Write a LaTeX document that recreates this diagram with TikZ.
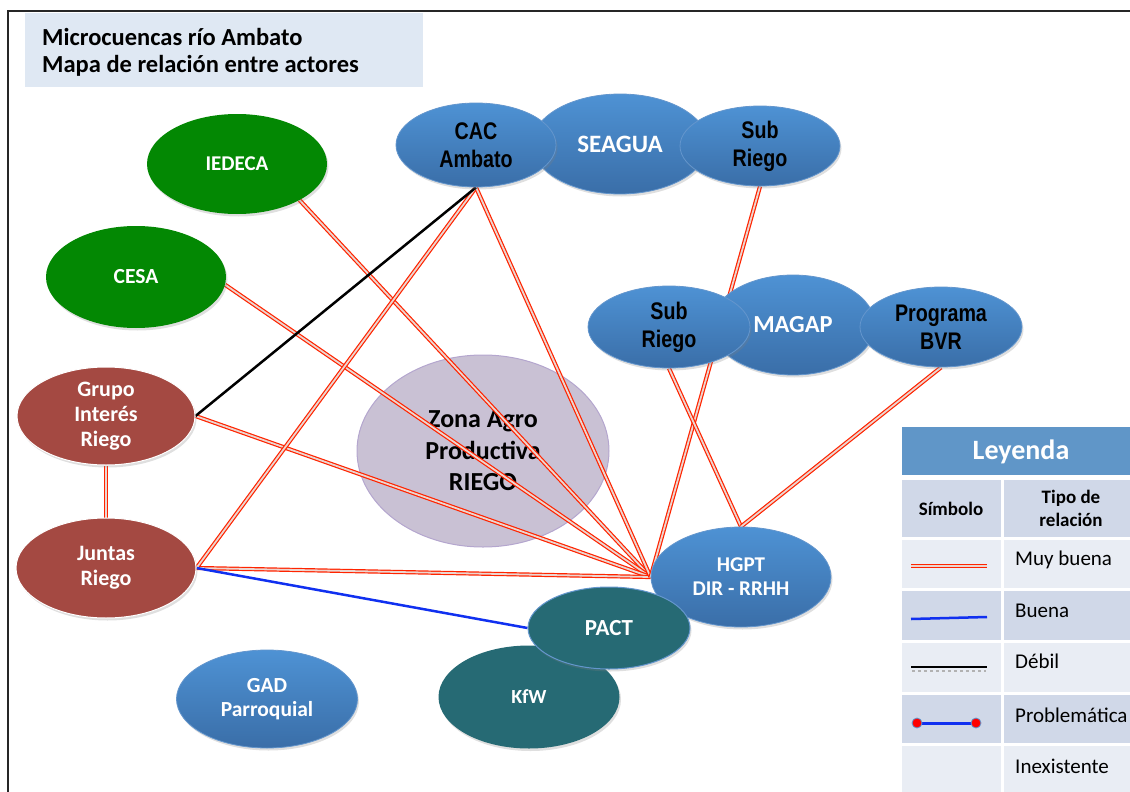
\documentclass[tikz,border=0pt]{standalone}
\usepackage{fontspec}
\setmainfont{Carlito}
\newfontfamily\narrowfont[FakeStretch=0.82]{Liberation Sans}
\usetikzlibrary{shapes.geometric,shadows}
\pgfdeclarelayer{bg}
\pgfdeclarelayer{edges}
\pgfsetlayers{bg,edges,main}
\definecolor{nodeblueT}{RGB}{78,146,212}
\definecolor{nodeblueB}{RGB}{58,110,168}
\definecolor{blueborder}{RGB}{100,150,205}
\definecolor{greenfill}{RGB}{3,136,3}
\definecolor{brownfill}{RGB}{164,73,66}
\definecolor{tealfill}{RGB}{38,106,116}
\definecolor{zonafill}{RGB}{201,193,212}
\definecolor{zonaborder}{RGB}{180,166,206}
\definecolor{relred}{RGB}{255,36,0}
\definecolor{relgap}{RGB}{236,214,208}
\definecolor{relblue}{RGB}{16,48,240}
\definecolor{titlebg}{RGB}{223,232,243}
\definecolor{legblue}{RGB}{96,150,200}
\definecolor{legdark}{RGB}{208,216,232}
\definecolor{leglight}{RGB}{233,237,244}
\tikzset{
  actor/.style={ellipse, inner sep=0pt, align=center,
    drop shadow={opacity=0.25, shadow xshift=1.5pt, shadow yshift=-2.5pt}},
  bluenode/.style={actor, draw=blueborder, line width=0.8pt, top color=nodeblueT, bottom color=nodeblueB, text=white,
    font=\bfseries\fontsize{21}{24}\selectfont},
  narrowtext/.style={text=black, font=\narrowfont\bfseries\fontsize{24}{28}\selectfont},
  greennode/.style={actor, fill=greenfill, text=white, font=\bfseries\fontsize{21}{24}\selectfont},
  brownnode/.style={actor, fill=brownfill, draw=white, line width=1pt, text=white, font=\bfseries\fontsize{22}{25}\selectfont},
  tealnode/.style={actor, fill=tealfill, text=white, font=\bfseries\fontsize{21}{24}\selectfont},
  muybuena/.style={draw=relred, line width=1.2pt, double=relgap, double distance=1.8pt},
  buena/.style={draw=relblue, line width=2.5pt},
  debil/.style={draw=black, line width=2.5pt},
  legtext/.style={anchor=base west, text=black, font=\fontsize{21}{24}\selectfont, inner sep=0pt},
}
\begin{document}
\begin{tikzpicture}[x=1pt,y=-1pt]
\useasboundingbox (0,0) rectangle (1130,792);
\clip (0,0) rectangle (1130,792);
% frame
\draw[line width=2pt, black!85] (8,800) -- (8,11) -- (1140,11);
% title
\fill[titlebg] (25,13) rectangle (423,87);
\node[anchor=base west, inner sep=0pt, font=\bfseries\fontsize{24.5}{28}\selectfont] (title1) at (42,46) {Microcuencas río Ambato};
\node[anchor=base west, inner sep=0pt, font=\bfseries\fontsize{24.5}{28}\selectfont] (title2) at (42,73) {Mapa de relación entre actores};

% zona (background)
\begin{pgfonlayer}{bg}
\node[ellipse, inner sep=0pt, align=center, fill=zonafill, draw=zonaborder, line width=1pt,
  minimum width=252pt, minimum height=192pt, font=\bfseries\fontsize{26}{31.5}\selectfont] (zona) at (483,451) {Zona Agro\\Productiva\\RIEGO};
\end{pgfonlayer}

% left actors
\node[greennode, minimum width=180pt, minimum height=100pt] (iedeca) at (237,164) {IEDECA};
\node[greennode, minimum width=180pt, minimum height=102pt, font=\bfseries\fontsize{21.5}{24}\selectfont] (cesa) at (136,277) {CESA};
\node[brownnode, minimum width=178pt, minimum height=98pt] (grupo) at (106,416) {Grupo\\Interés\\Riego};
\node[brownnode, minimum width=180pt, minimum height=100pt] (juntas) at (106,568) {Juntas\\Riego};
\node[bluenode, minimum width=181pt, minimum height=98pt, font=\bfseries\fontsize{21.5}{24}\selectfont] (gad) at (267,699) {GAD\\Parroquial};

% top cluster
\node[bluenode, minimum width=176pt, minimum height=100pt, font=\bfseries\fontsize{25}{28}\selectfont] (seagua) at (620,144) {SEAGUA};
\node[bluenode, narrowtext, minimum width=160pt, minimum height=84pt] (cac) at (476,145) {CAC\\Ambato};
\node[bluenode, narrowtext, minimum width=160pt, minimum height=80pt] (subr1) at (760,146) {Sub\\Riego};

% middle cluster
\node[bluenode, minimum width=164pt, minimum height=100pt, font=\bfseries\fontsize{24.5}{28}\selectfont] (magap) at (793,325) {MAGAP};
\node[bluenode, narrowtext, minimum width=162pt, minimum height=82pt] (subr2) at (669,327) {Sub\\Riego};
\node[bluenode, narrowtext, minimum width=162pt, minimum height=80pt] (bvr) at (941,327) {Programa\\BVR};

% bottom cluster
\node[bluenode, minimum width=180pt, minimum height=100pt] (hgpt) at (741,577) {HGPT\\DIR - RRHH};
\node[tealnode, minimum width=181pt, minimum height=103pt, font=\bfseries\fontsize{20}{23}\selectfont] (kfw) at (529,697) {KfW};
\node[tealnode, draw=blueborder, line width=1pt, minimum width=162pt, minimum height=82pt, font=\bfseries\fontsize{23}{26}\selectfont] (pact) at (609,628) {PACT};

% relations
\begin{pgfonlayer}{edges}
\draw[muybuena] (iedeca.-30) -- (hgpt.west);
\draw[muybuena] (cesa.-5) -- (hgpt.west);
\draw[muybuena] (grupo.east) -- (hgpt.west);
\draw[muybuena] (juntas.east) -- (hgpt.west);
\draw[muybuena] (juntas.east) -- (cac.south);
\draw[muybuena] (cac.south) -- (hgpt.west);
\draw[muybuena] (subr1.south) -- (hgpt.west);
\draw[muybuena] (subr2.south) -- (hgpt.north);
\draw[muybuena] (bvr.south) -- (hgpt.north);
\draw[muybuena] (grupo.south) -- (juntas.north);
\draw[debil] (grupo.east) -- (cac.south);
\draw[buena] (juntas.east) -- (pact.west);
\end{pgfonlayer}

% legend
\fill[legblue] (902,427) rectangle (1140,475);
\fill[legdark] (902,480) rectangle (1001,537);
\fill[legdark] (1004,480) rectangle (1140,537);
\fill[leglight] (902,540) rectangle (1001,588);
\fill[leglight] (1004,540) rectangle (1140,588);
\fill[legdark] (902,591) rectangle (1001,640);
\fill[legdark] (1004,591) rectangle (1140,640);
\fill[leglight] (902,643) rectangle (1001,692);
\fill[leglight] (1004,643) rectangle (1140,692);
\fill[legdark] (902,695) rectangle (1001,743);
\fill[legdark] (1004,695) rectangle (1140,743);
\fill[leglight] (902,746) rectangle (1001,800);
\fill[leglight] (1004,746) rectangle (1140,800);
\node[text=white, font=\bfseries\fontsize{28}{32}\selectfont, inner sep=0pt] (leyenda) at (1021,452) {Leyenda};
\node[font=\bfseries\fontsize{19}{23}\selectfont, inner sep=0pt] (simbolo) at (951,509) {Símbolo};
\node[font=\bfseries\fontsize{19}{23}\selectfont, inner sep=0pt, align=center] (tipo) at (1071,508) {Tipo de\\relación};
\node[legtext] (lmb) at (1015,565) {Muy buena};
\node[legtext] (lb) at (1015,617) {Buena};
\node[legtext] (ld) at (1015,668) {Débil};
\node[legtext] (lp) at (1015,722) {Problemática};
\node[legtext] (li) at (1015,773) {Inexistente};
\coordinate (mbA) at (911,566); \coordinate (mbB) at (987,566);
\draw[muybuena] (mbA) -- (mbB);
\coordinate (bA) at (911,619); \coordinate (bB) at (987,617);
\draw[buena] (bA) -- (bB);
\coordinate (dA) at (911,667); \coordinate (dB) at (987,667);
\draw[black!30, line width=2pt, dashed] (912,671) -- (986,671);
\draw[debil] (dA) -- (dB);
\coordinate (pA) at (917,723); \coordinate (pB) at (976,723);
\draw[buena, line width=3pt] (pA) -- (pB);
\node[circle, fill=red, draw=blueborder, line width=0.8pt, minimum size=10pt, inner sep=0pt] (pdotA) at (pA) {};
\node[circle, fill=red, draw=blueborder, line width=0.8pt, minimum size=10pt, inner sep=0pt] (pdotB) at (pB) {};
\end{tikzpicture}
\end{document}
